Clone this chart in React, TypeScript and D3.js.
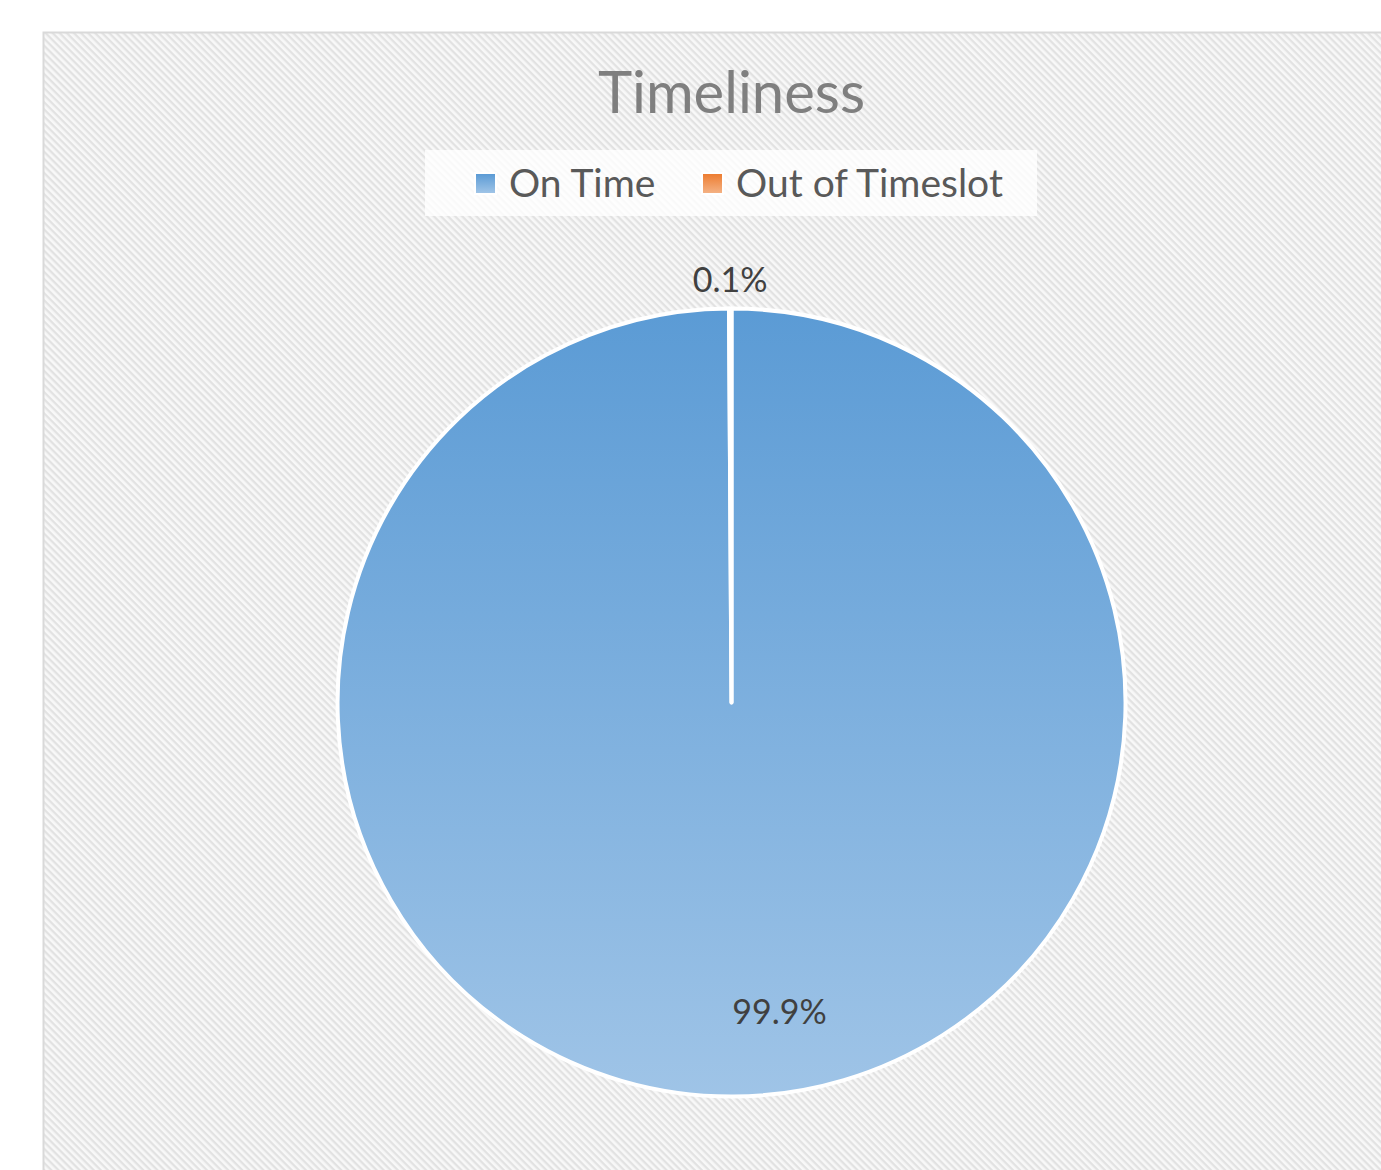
import React from 'react';
import * as d3 from 'd3';

const W = 1381;
const H = 1170;

const categories = ['On Time', 'Out of Timeslot'];
const values = [99.9, 0.1];
const labels = ['99.9%', '0.1%'];
const title = 'Timeliness';

const colorsTop = ['#5b9bd5', '#ed7d31'];
const colorsBottom = ['#9fc4e7', '#f4b183'];

const cx = 731.5;
const cy = 702.5;
const r = 394;

const pie = d3.pie<number>().sort(null).value((d) => d)(values);
const arc = d3.arc<d3.PieArcDatum<number>>().innerRadius(0).outerRadius(r);
const insideArc = d3.arc<d3.PieArcDatum<number>>().innerRadius(r * 0.785).outerRadius(r * 0.785);
const outsideArc = d3.arc<d3.PieArcDatum<number>>().innerRadius(r + 29).outerRadius(r + 29);

const font = 'Lato, "Open Sans", sans-serif';

// legend layout (x of marker, x of text)
const legendItems = [
  { mx: 476, tx: 509 },
  { mx: 703, tx: 736 },
];

export default function App() {
  return (
    <svg width={W} height={H} style={{ position: 'absolute', left: 0, top: 0 }}>
      <defs>
        <pattern id="hatch" width="5" height="5" patternUnits="userSpaceOnUse" patternTransform="rotate(45)">
          <rect width="5" height="5" fill="#f8f8f8" />
          <rect width="5" height="2.3" fill="#e2e2e2" />
        </pattern>
        {categories.map((c, i) => (
          <linearGradient key={c} id={`pieGrad${i}`} gradientUnits="userSpaceOnUse" x1="0" y1={-r} x2="0" y2={r}>
            <stop offset="0" stopColor={colorsTop[i]} />
            <stop offset="1" stopColor={colorsBottom[i]} />
          </linearGradient>
        ))}
        {categories.map((c, i) => (
          <linearGradient key={c} id={`legGrad${i}`} x1="0" y1="0" x2="0" y2="1">
            <stop offset="0" stopColor={colorsTop[i]} />
            <stop offset="1" stopColor={colorsBottom[i]} />
          </linearGradient>
        ))}
      </defs>
      <rect x={0} y={0} width={W} height={H} fill="#ffffff" />
      <rect x={43.5} y={32.5} width={W} height={H} fill="url(#hatch)" stroke="#d9d9d9" strokeWidth={2} />

      <text x={cx} y={113} textAnchor="middle" fontFamily={font} fontSize={58} fill="#7f7f7f">
        {title}
      </text>

      <rect x={425} y={150} width={612} height={66} fill="#ffffff" opacity={0.8} />
      {categories.map((c, i) => (
        <g key={c}>
          <rect x={legendItems[i].mx - 2} y={172} width={23} height={23} fill="#ffffff" />
          <rect x={legendItems[i].mx} y={174} width={19} height={19} fill={`url(#legGrad${i})`} />
          <text x={legendItems[i].tx} y={197} fontFamily={font} fontSize={39} fill="#595959">
            {c}
          </text>
        </g>
      ))}

      <g transform={`translate(${cx},${cy})`}>
        {pie.map((d, i) => (
          <path key={categories[i]} d={arc(d) || ''} fill={`url(#pieGrad${i})`} stroke="#ffffff" strokeWidth={4} strokeLinejoin="round" />
        ))}
        {pie.map((d, i) => {
          const big = d.endAngle - d.startAngle > 0.5;
          const [lx, ly] = big ? insideArc.centroid(d) : outsideArc.centroid(d);
          return (
            <text
              key={labels[i]}
              x={lx + (big ? 47 : 0)}
              y={ly}
              dy="0.36em"
              textAnchor="middle"
              fontFamily={font}
              fontSize={34}
              fill="#404040"
            >
              {labels[i]}
            </text>
          );
        })}
      </g>
    </svg>
  );
}
